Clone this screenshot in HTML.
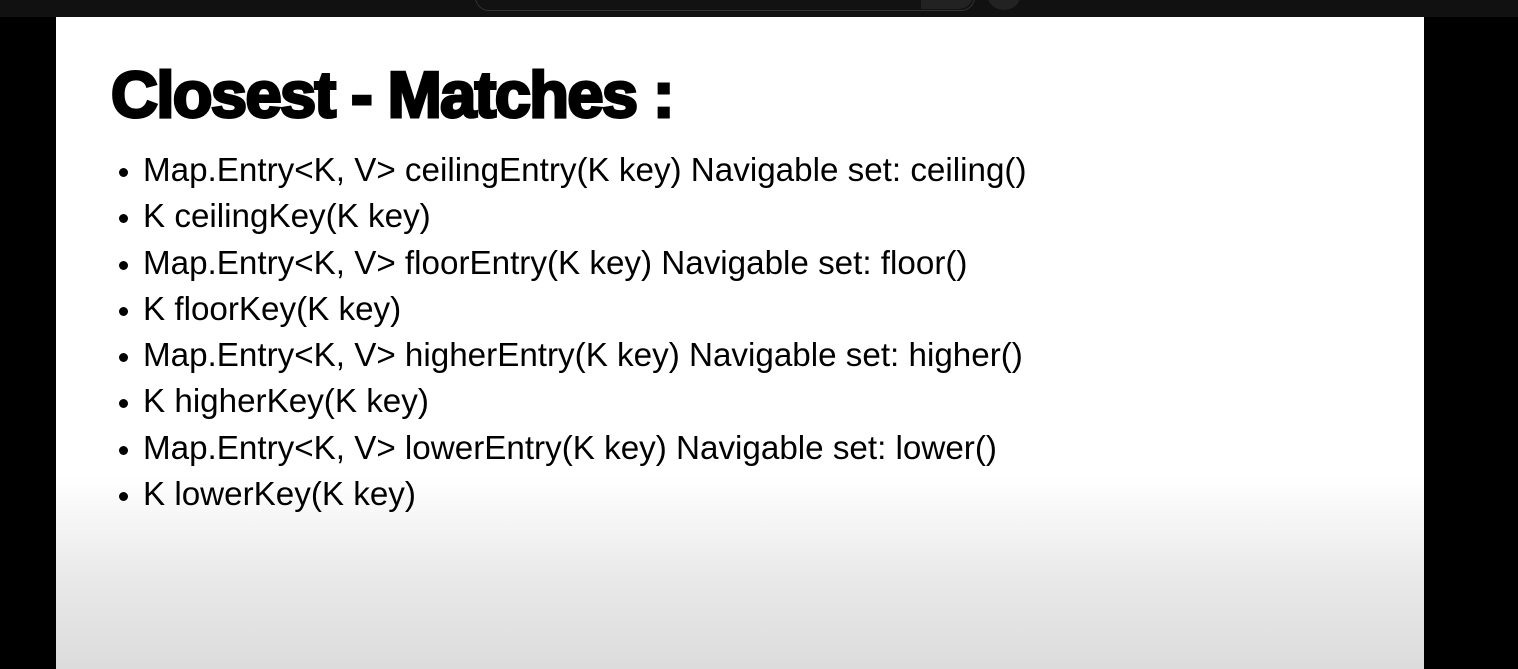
<!DOCTYPE html>
<html><head><style>
html,body{margin:0;padding:0;}
body{width:1518px;height:669px;background:#000;position:relative;overflow:hidden;font-family:"Liberation Sans",sans-serif;}
.top{position:absolute;left:0;top:0;width:1518px;height:17px;background:#111;}
.search{position:absolute;left:475px;top:-20px;width:498px;height:29px;border:1px solid #333;border-radius:14px;background:#121212;}
.sbtn{position:absolute;left:921px;top:-20px;width:52px;height:29px;background:#222;border-radius:0 14px 14px 0;}
.mic{position:absolute;left:987px;top:-22px;width:34px;height:32px;border-radius:50%;background:#222;}
.panel{position:absolute;left:56px;top:17px;width:1368px;height:652px;background:linear-gradient(#fff 0px,#fff 460px,#e9e9e9 560px,#dcdcdc 652px);}
h1{position:absolute;left:111px;top:55px;margin:0;font-size:65px;font-weight:900;letter-spacing:-1.6px;line-height:80px;color:#000;-webkit-text-stroke:3px #000;white-space:nowrap;}
ul{position:absolute;left:143px;top:148px;margin:0;padding:0;list-style:none;}
li{font-size:33.2px;line-height:46.3px;height:46.3px;color:#000;white-space:nowrap;position:relative;}
li:before{content:"";position:absolute;left:-24px;top:20px;width:9px;height:9px;border-radius:50%;background:#000;}
</style></head><body>
<div class="top"></div>
<div class="search"></div><div class="sbtn"></div><div class="mic"></div>
<div class="panel"></div>
<h1>Closest - Matches :</h1>
<ul>
<li>Map.Entry&lt;K, V&gt; ceilingEntry(K key) Navigable set: ceiling()</li>
<li>K ceilingKey(K key)</li>
<li>Map.Entry&lt;K, V&gt; floorEntry(K key) Navigable set: floor()</li>
<li>K floorKey(K key)</li>
<li>Map.Entry&lt;K, V&gt; higherEntry(K key) Navigable set: higher()</li>
<li>K higherKey(K key)</li>
<li>Map.Entry&lt;K, V&gt; lowerEntry(K key) Navigable set: lower()</li>
<li>K lowerKey(K key)</li>
</ul>
</body></html>
